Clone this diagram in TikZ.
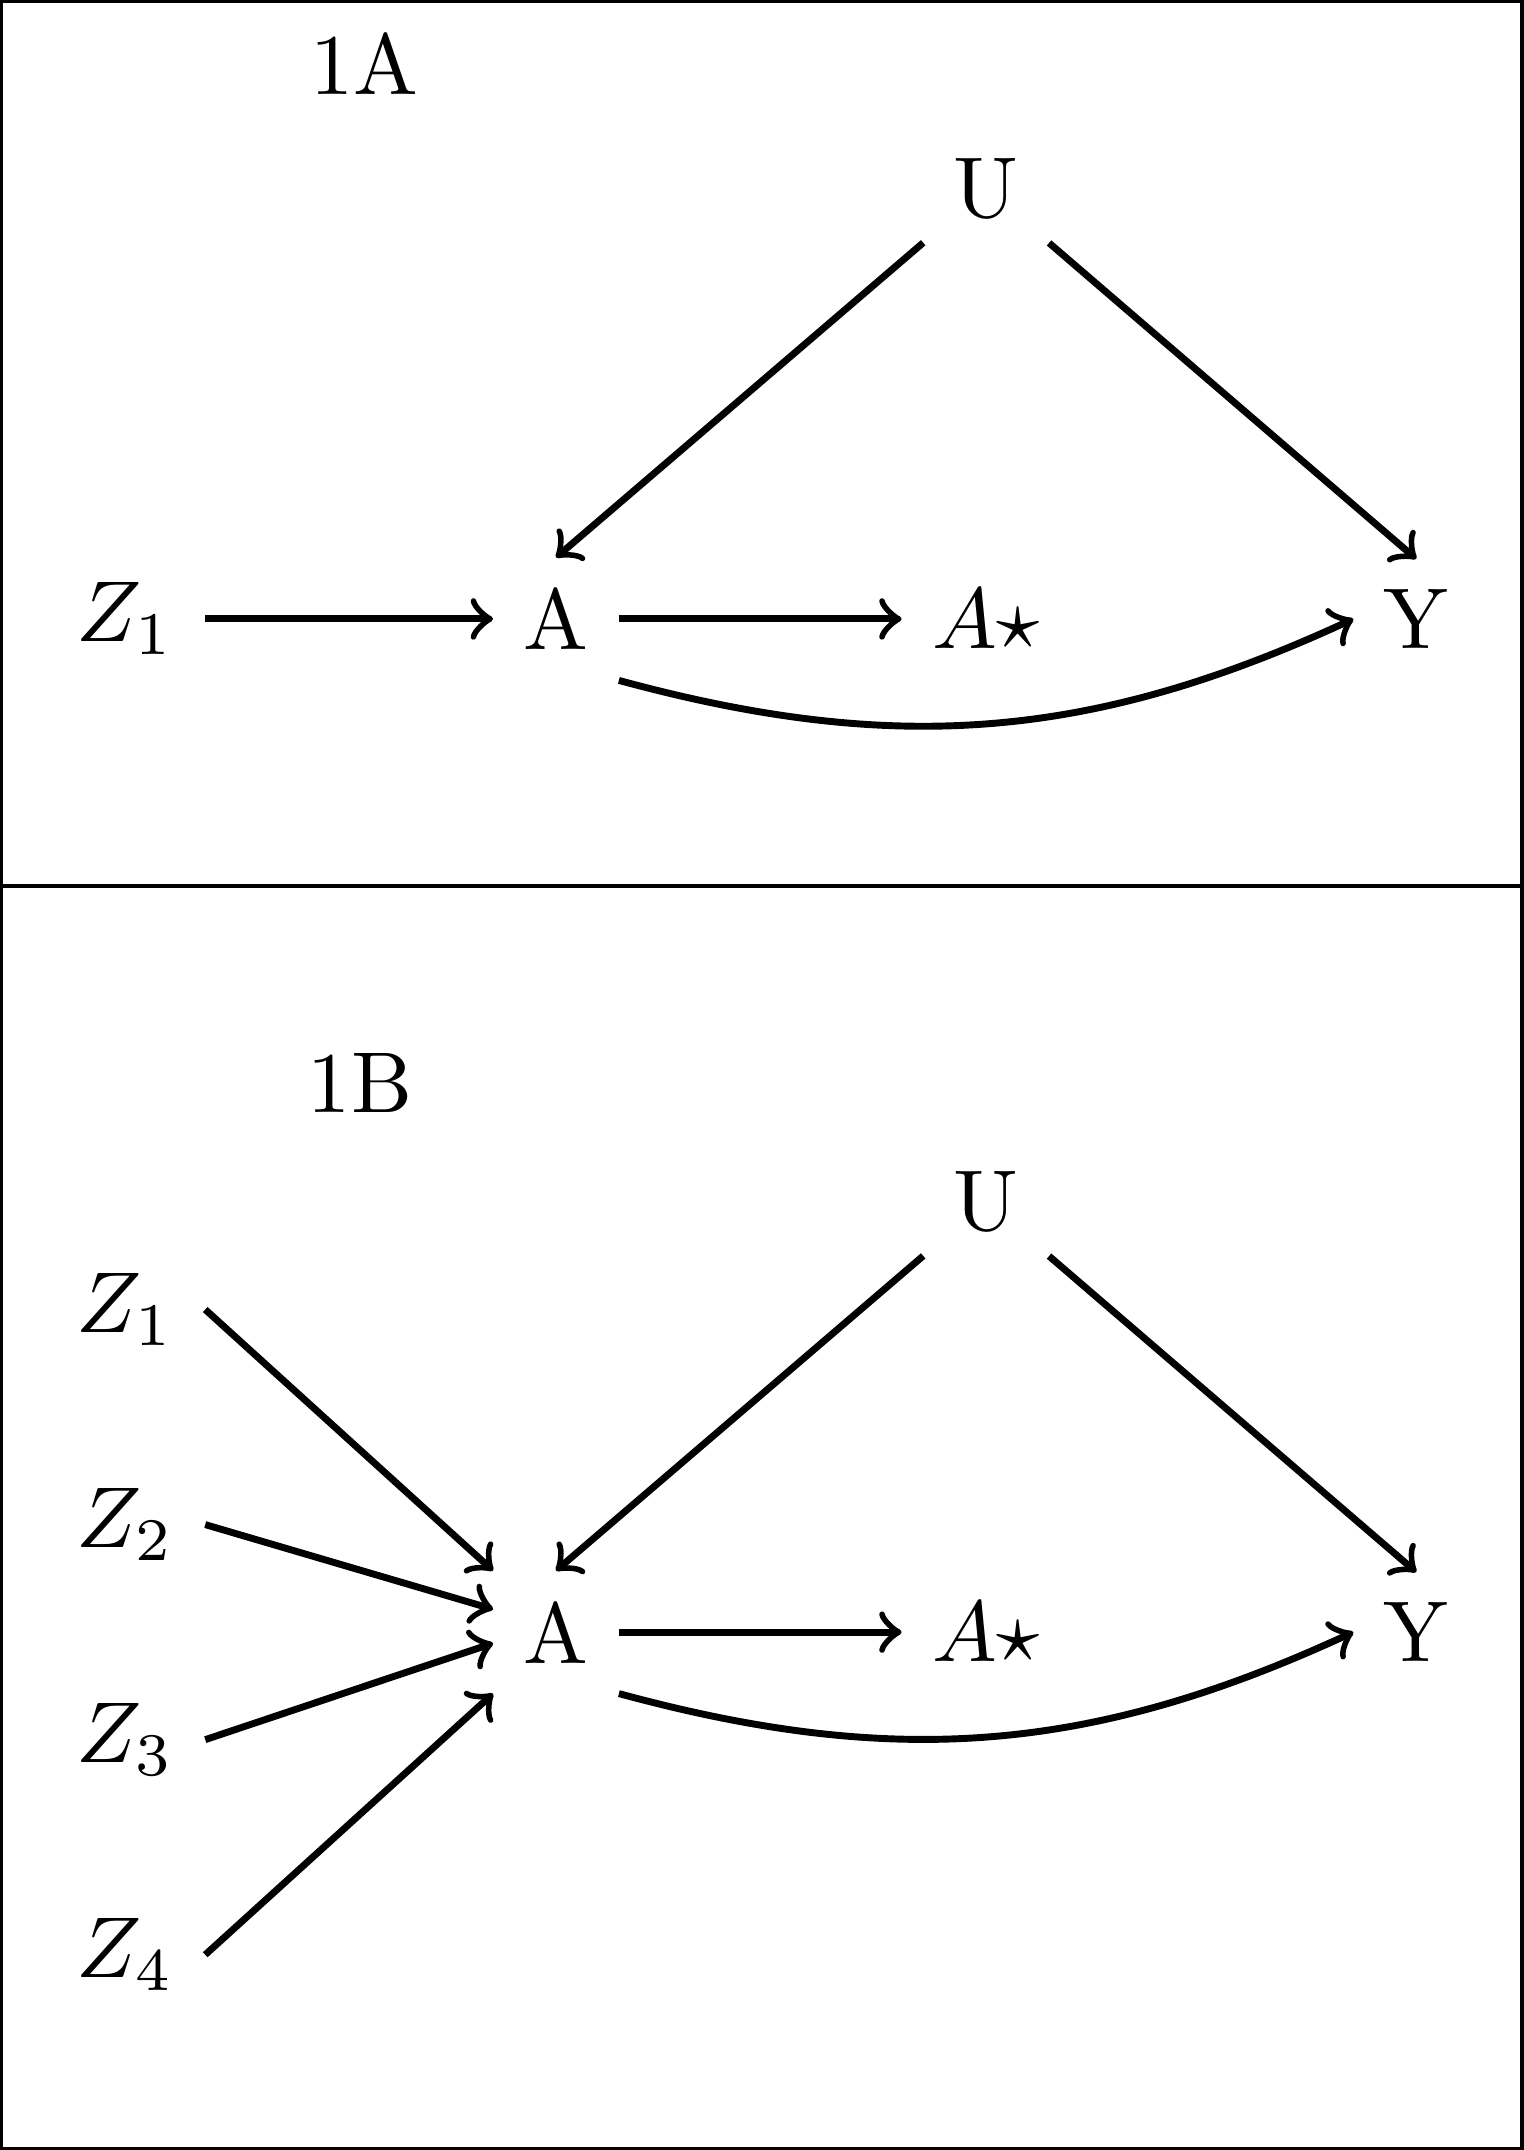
\documentclass[tikz,border=0pt]{standalone}
\usetikzlibrary{positioning}

\begin{document}
\begin{tikzpicture}[node distance=1.75cm, auto, var/.style={shape=rectangle}, link/.style={->, thick}]

    \useasboundingbox (0,0) rectangle (6.2,-8.747);
    % Panel frames
    \draw (0.007,-0.007) rectangle (6.193,-3.605);
    \draw (0.007,-3.605) rectangle (6.193,-8.740);

    % Panel 1A (nodes)
    \node (lab1) at (1.481,-0.260) {1A};
    \node[var] (a1) at (2.262,-2.518) {A}; % treatment
    \node[var, left of=a1] (z1a) {$Z_1$}; % instrument
    \node[var, right of=a1] (as1) {$A\star$};
    \node[var, right of=as1] (y1) {Y}; % outcome
    \node[var, above of=as1] (u1) {U}; % unmeasured confounder
    % Panel 1A (edges)
    \path[link]
    (z1a) edge (a1)
    (a1) edge (as1)
    (u1) edge (a1.north)
    (u1) edge (y1.north)
    (a1.south east) edge[bend right=20] (y1.west);

    % Panel 1B (nodes)
    \node (lab2) at (1.465,-4.404) {1B};
    \node[var] (a2) at (2.262,-6.640) {A};
    \node[var, left of=a2, yshift=1.3125cm] (z1b) {$Z_1$};
    \node[var, left of=a2, yshift=0.4375cm] (z2b) {$Z_2$};
    \node[var, left of=a2, yshift=-0.4375cm] (z3b) {$Z_3$};
    \node[var, left of=a2, yshift=-1.3125cm] (z4b) {$Z_4$};
    \node[var, right of=a2] (as2) {$A\star$};
    \node[var, right of=as2] (y2) {Y};
    \node[var, above of=as2] (u2) {U};
    % Panel 1B (edges)
    \path[link]
    (z1b.east) edge (a2.north west)
    (z2b.east) edge (a2.160)
    (z3b.east) edge (a2.190)
    (z4b.east) edge (a2.south west)
    (a2) edge (as2)
    (u2) edge (a2.north)
    (u2) edge (y2.north)
    (a2.south east) edge[bend right=20] (y2.west);
\end{tikzpicture}
\end{document}
